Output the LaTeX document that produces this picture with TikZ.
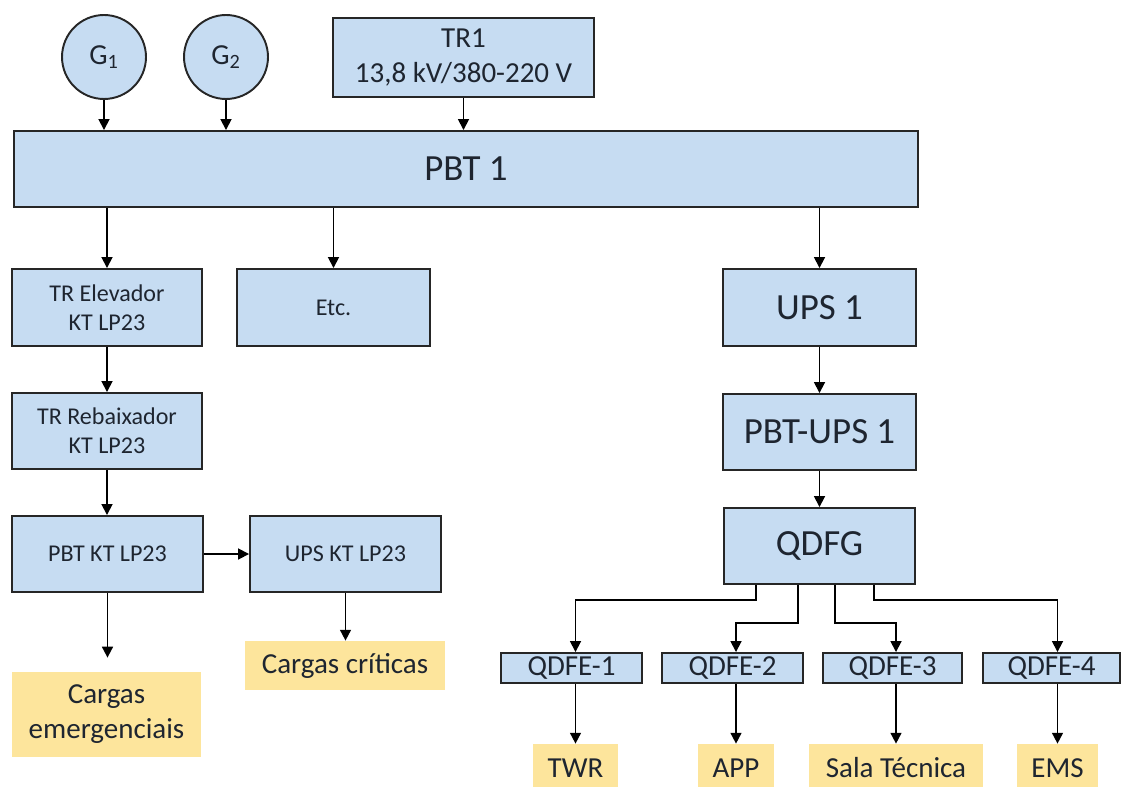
\documentclass[tikz,border=0pt]{standalone}
\usepackage{fontspec}
\setmainfont{Carlito}
\usepackage{tikz}
\usetikzlibrary{positioning, arrows.meta, calc}
\usepackage{xcolor}
\definecolor{boxblue}{HTML}{C6DCF2}
\definecolor{loadyellow}{HTML}{FDE59C}
\definecolor{boxline}{HTML}{262626}
\definecolor{boxtext}{HTML}{1E2530}
\tikzset{
    panel/.style={
        rectangle,
        draw=boxline,
        fill=boxblue,
        line width=1.1pt,
        inner sep=0pt,
        align=center,
        text=boxtext
    },
    gen/.style={
        circle,
        draw=boxline,
        fill=boxblue,
        line width=1.1pt,
        inner sep=0pt,
        minimum size=1.68cm,
        text=boxtext
    },
    load/.style={
        rectangle,
        fill=loadyellow,
        inner sep=0pt,
        align=center,
        text=boxtext
    },
    smalltxt/.style={font=\fontsize{13.7}{16.5}\selectfont},
    midtxt/.style={font=\fontsize{16.5}{20}\selectfont},
    bigtxt/.style={font=\fontsize{21}{25}\selectfont},
    feed/.style={
        line width=1pt,
        -{Triangle[length=6.2pt,width=6.2pt]}
    }
}
\begin{document}
\begin{tikzpicture}[x=0.02cm, y=-0.02cm]

      \useasboundingbox (0,0) rectangle (1122,787);
      \clip (0,0) rectangle (1122,787);

      % sources
      \node[gen, midtxt] (g1) at (104,57) {G\textsubscript{1}};
      \node[gen, midtxt] (g2) at (226,57) {G\textsubscript{2}};
      \node[panel, midtxt, minimum width=5.22cm, minimum height=1.58cm] (tr1) at (463.5,57.5) {TR1\\13,8 kV/380-220 V};

      % main board
      \node[panel, bigtxt, minimum width=18.08cm, minimum height=1.52cm] (pbt) at (466,169) {PBT 1};

      % left branch
      \node[panel, smalltxt, minimum width=3.8cm, minimum height=1.54cm] (trel) at (107,307.5) {TR Elevador\\KT LP23};
      \node[panel, smalltxt, minimum width=3.86cm, minimum height=1.54cm] (etc) at (333.5,307.5) {Etc.};
      \node[panel, smalltxt, minimum width=3.8cm, minimum height=1.52cm] (treb) at (107,431) {TR Rebaixador\\KT LP23};
      \node[panel, smalltxt, minimum width=3.82cm, minimum height=1.52cm] (pbtkt) at (107.5,554) {PBT KT LP23};
      \node[panel, smalltxt, minimum width=3.82cm, minimum height=1.52cm] (upskt) at (345.5,554) {UPS KT LP23};
      \node[load, midtxt, minimum width=3.78cm, minimum height=1.7cm] (emerg) at (106.5,714.5) {Cargas\\emergenciais};
      \node[load, midtxt, minimum width=4cm, minimum height=0.98cm] (crit) at (345,665.5) {Cargas críticas};

      % right branch
      \node[panel, bigtxt, minimum width=3.86cm, minimum height=1.54cm] (ups) at (819.5,307.5) {UPS 1};
      \node[panel, bigtxt, minimum width=3.86cm, minimum height=1.52cm] (pbtups) at (819.5,432) {PBT-UPS 1};
      \node[panel, bigtxt, minimum width=3.82cm, minimum height=1.52cm] (qdfg) at (819.5,546) {QDFG};

      \foreach \i/\x/\w/\lx/\lw/\name in {
          1/571.5/2.82/575.5/1.70/TWR,
          2/732.5/2.82/736/1.52/APP,
          3/892.5/2.78/896/3.48/Sala Técnica,
          4/1051.5/2.74/1057.5/1.62/EMS}
        {
          \node[panel, midtxt, minimum width=\w cm, minimum height=0.6cm] (q\i) at (\x,668) {QDFE-\i};
          \node[load, midtxt, minimum width=\lw cm, minimum height=0.96cm] (t\i) at (\lx,768) {\name};
        }

      % connectors
      \draw[feed] (g1.south) -- (g1.south |- pbt.north);
      \draw[feed] (g2.south) -- (g2.south |- pbt.north);
      \draw[feed] (tr1.south) -- (tr1.south |- pbt.north);
      \draw[feed] (pbt.south -| trel.north) -- (trel.north);
      \draw[feed] (pbt.south -| etc.north) -- (etc.north);
      \draw[feed] (pbt.south -| ups.north) -- (ups.north);
      \draw[feed] (trel) -- (treb);
      \draw[feed] (treb.south) -- (treb.south |- pbtkt.north);
      \draw[feed] (pbtkt) -- (upskt);
      \draw[feed, shorten >=8pt] (pbtkt.south) -- (pbtkt.south |- emerg.north);
      \draw[feed] (upskt.south) -- (upskt.south |- crit.north);
      \draw[feed] (ups) -- (pbtups);
      \draw[feed] (pbtups) -- (qdfg);

      \foreach \dx/\dy/\i in {-63.5/15/1, -21.5/38/2, 15.5/38/3, 54.5/15/4}
        {
          \draw[feed] ($(qdfg.south)+(\dx,0)$) -- ++(0,\dy) -| (t\i |- q\i.north);
          \draw[feed] (t\i |- q\i.south) -- (t\i.north);
        }

    \end{tikzpicture}
\end{document}
